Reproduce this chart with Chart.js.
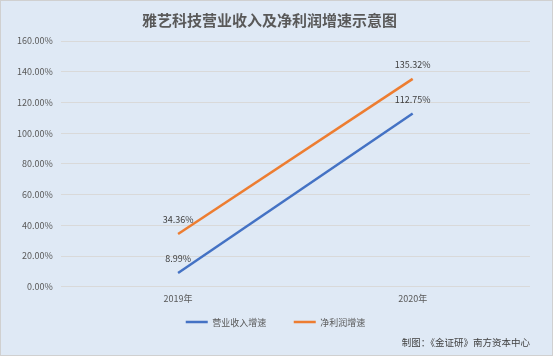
<!DOCTYPE html>
<html><head><meta charset="utf-8">
<script src="https://cdn.jsdelivr.net/npm/chart.js@4"></script>
<style>
html,body{margin:0;padding:0;background:#fff;}
#wrap{position:relative;width:551px;height:354px;border:1px solid #d0d0d0;background:#dfe9f5;}
</style></head>
<body><div id="wrap"><canvas id="c" width="551" height="354"></canvas></div>
<script>
const categories = ['2019年', '2020年'];
const revenueGrowth = [8.99, 112.75];
const profitGrowth = [34.36, 135.32];
const seriesNames = ['营业收入增速', '净利润增速'];
const yTicks = [0, 20, 40, 60, 80, 100, 120, 140, 160];

const FONT = '"Noto Sans CJK SC", "Noto Sans", sans-serif';

const labelPlugin = {
  id: 'pointLabels',
  afterLayout(chart) {
    if (chart.legend) { chart.legend.left += 6; chart.legend.right += 6; }
  },
  afterDatasetsDraw(chart) {
    const ctx = chart.ctx;
    ctx.save();
    ctx.font = '9px ' + FONT;
    ctx.fillStyle = '#404040';
    ctx.textAlign = 'center';
    ctx.textBaseline = 'middle';
    chart.data.datasets.forEach((ds, i) => {
      const meta = chart.getDatasetMeta(i);
      meta.data.forEach((pt, j) => {
        ctx.fillText(ds.data[j].toFixed(2) + '%', pt.x, pt.y - 14);
      });
    });
    ctx.restore();
  }
};

new Chart(document.getElementById('c'), {
  type: 'line',
  data: {
    labels: categories,
    datasets: [
      { label: seriesNames[0], data: revenueGrowth, borderColor: '#4472c4', backgroundColor: '#4472c4', borderWidth: 2.5, pointRadius: 0, tension: 0 },
      { label: seriesNames[1], data: profitGrowth, borderColor: '#ed7d31', backgroundColor: '#ed7d31', borderWidth: 2.5, pointRadius: 0, tension: 0 }
    ]
  },
  options: {
    responsive: false,
    animation: false,
    layout: { padding: { left: 8, right: 22, top: 4, bottom: 7 } },
    plugins: {
      title: { display: true, text: '雅艺科技营业收入及净利润增速示意图', color: '#595959', font: { family: FONT, size: 15, weight: 'bold' }, padding: { top: 6, bottom: 12 } },
      subtitle: { display: true, position: 'bottom', align: 'end', text: '制图：《金证研》南方资本中心', color: '#404040', font: { family: FONT, size: 9.5 }, padding: { top: 0, bottom: 0 } },
      legend: {
        position: 'bottom',
        labels: {
          usePointStyle: true, pointStyle: 'line', pointStyleWidth: 22,
          color: '#595959', font: { family: FONT, size: 9 }, padding: 8,
          generateLabels(chart) {
            const items = Chart.defaults.plugins.legend.labels.generateLabels(chart);
            items.forEach((it, i) => { if (i === 0) it.text = it.text + '\u3000\u3000\u2006'; it.lineWidth = 2.5; });
            return items;
          }
        }
      },
      tooltip: { enabled: false }
    },
    scales: {
      x: {
        offset: true,
        grid: { display: false, drawTicks: false },
        border: { display: false },
        ticks: { color: '#595959', font: { family: FONT, size: 9 }, padding: 6 }
      },
      y: {
        min: 0, max: 160,
        afterBuildTicks(axis) { axis.ticks = yTicks.map(v => ({ value: v })); },
        grid: { color: '#d9d9d9', drawTicks: false },
        border: { display: false },
        ticks: { color: '#595959', font: { family: FONT, size: 9 }, padding: 8, callback: v => v.toFixed(2) + '%' }
      }
    }
  },
  plugins: [labelPlugin]
});
</script></body></html>
